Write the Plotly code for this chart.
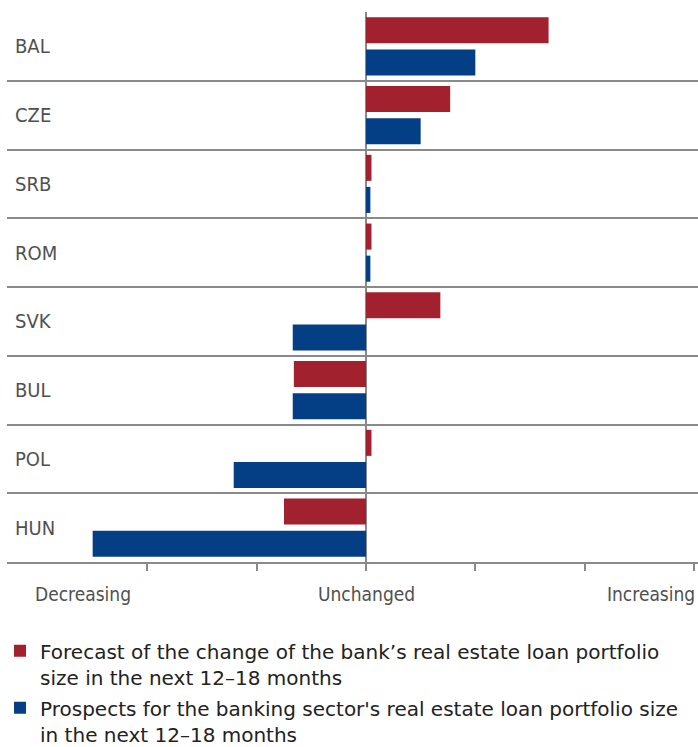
import plotly.graph_objects as go

# Survey regions, top to bottom
regions = ["BAL", "CZE", "SRB", "ROM", "SVK", "BUL", "POL", "HUN"]

# Net balance of answers (Decreasing = -3 ... Unchanged = 0 ... Increasing = +3)
bank_forecast = [1.67, 0.77, 0.05, 0.05, 0.68, -0.66, 0.05, -0.75]
sector_prospects = [1.0, 0.50, 0.04, 0.04, -0.67, -0.67, -1.21, -2.50]

series_names = [
    "Forecast of the change of the bank’s real estate loan portfolio<br>size in the next 12–18 months",
    "Prospects for the banking sector's real estate loan portfolio size<br>in the next 12–18 months",
]
series_colors = ["#A2212E", "#043F85"]

scale_ticks = [-3, -2, -1, 0, 1, 2, 3]
scale_labels = ["Decreasing", "Unchanged", "Increasing"]

LINE = "#8a8a8a"
NARROW = "DejaVu Sans Condensed, Liberation Sans Narrow, sans-serif"

fig = go.Figure()
for i, (name, vals, col) in enumerate(zip(series_names, [bank_forecast, sector_prospects], series_colors)):
    fig.add_trace(go.Bar(
        y=regions, x=vals, name=name, orientation="h", legendgroup=f"g{i}",
        marker=dict(color=col, line=dict(width=0)),
    ))

fig.update_layout(
    width=698, height=747,
    margin=dict(l=7, r=0, t=12, b=185, autoexpand=False),
    paper_bgcolor="white", plot_bgcolor="white",
    barmode="group", bargap=0.067, bargroupgap=0.1875,
    showlegend=True,
    legend=dict(
        x=-0.0101, xanchor="left", y=-0.126, yanchor="top",
        font=dict(family="DejaVu Sans", size=20, color="#222222"),
        traceorder="grouped", itemclick=False, bgcolor="rgba(0,0,0,0)",
        tracegroupgap=2, itemsizing="constant", valign="top",
    ),
    xaxis=dict(
        range=[-3.2835, 3.0366], tickvals=scale_ticks, showticklabels=False,
        ticks="outside", ticklen=7, tickwidth=1.5, tickcolor=LINE,
        showline=True, linecolor=LINE, linewidth=2,
        zeroline=True, zerolinecolor=LINE, zerolinewidth=2,
        showgrid=False, fixedrange=True,
    ),
    yaxis=dict(
        autorange="reversed", tickson="boundaries",
        showgrid=True, gridcolor=LINE, gridwidth=2,
        ticks="", ticklabelposition="inside", ticklabelstandoff=5,
        tickfont=dict(family=NARROW, size=20, color="#505050"),
        showline=False, zeroline=False, fixedrange=True,
    ),
)

# Scale captions under the value axis
anchors = [("left", -5), ("center", 0), ("right", 3)]
for val, txt, (anc, shift) in zip([scale_ticks[0], 0, scale_ticks[-1]], scale_labels, anchors):
    fig.add_annotation(
        x=val, xref="x", y=0, yref="paper", yanchor="middle", yshift=-32,
        xanchor=anc, xshift=shift, text=txt, showarrow=False,
        font=dict(family=NARROW, size=19, color="#505050"),
    )

fig.write_html("out.html")
